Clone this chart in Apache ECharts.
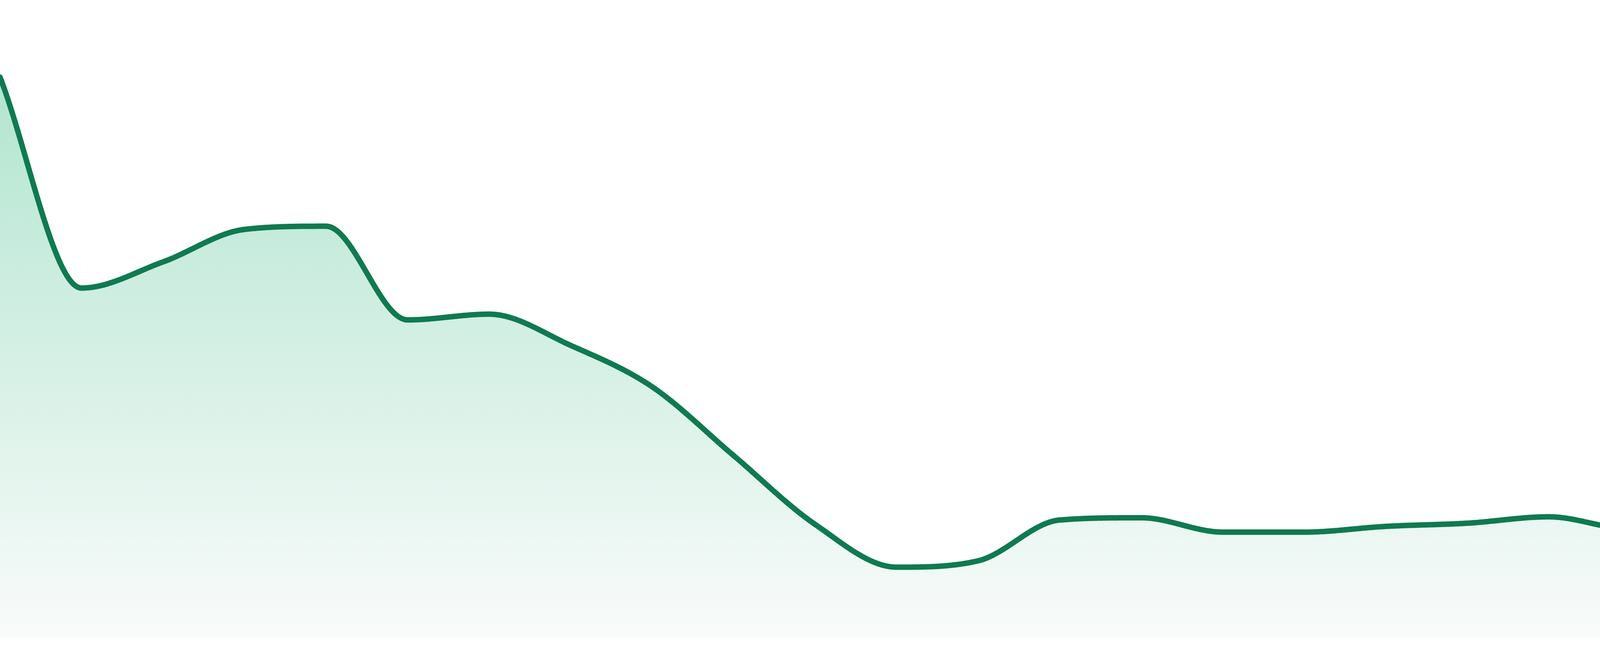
<!DOCTYPE html>
<html>
<head>
<meta charset="utf-8">
<script src="https://cdn.jsdelivr.net/npm/echarts@6/dist/echarts.min.js"></script>
<style>
html,body{margin:0;padding:0;background:#ffffff;}
#chart{width:4800px;height:1680px;}
</style>
</head>
<body>
<div id="chart"></div>
<script>
var categories = ['1','2','3','4','5','6','7','8','9','10','11','12','13','14','15','16','17','18','19','20','21','22','23','24'];
var values = [87.9, 54.8, 58.9, 64.0, 64.5, 49.8, 50.7, 45.8, 39.3, 28.5, 17.7, 11.0, 12.0, 18.4, 18.75, 16.5, 16.5, 17.4, 17.9, 18.9, 17.0, 19.5, 18.0, 17.2];
var yMin = 0;
var yMax = 100;

var lineColor = '#0f7a50';
var areaTop = '#b2e5d0';
var areaBottom = '#f9fbfa';

// monotone cubic (Fritsch-Carlson) tangents in pixel space
function monotoneTangents(pts) {
  var n = pts.length, d = [], m = [];
  for (var i = 0; i < n - 1; i++) {
    var dx = pts[i + 1][0] - pts[i][0];
    d[i] = dx !== 0 ? (pts[i + 1][1] - pts[i][1]) / dx : 0;
  }
  for (i = 0; i < n; i++) {
    if (i === 0) m[i] = d[0];
    else if (i === n - 1) m[i] = d[n - 2];
    else if (Math.sign(d[i - 1]) !== Math.sign(d[i])) m[i] = 0;
    else m[i] = (d[i - 1] + d[i]) / 2;
  }
  for (i = 0; i < n - 1; i++) {
    if (Math.abs(d[i]) < 1e-9) { m[i] = 0; m[i + 1] = 0; continue; }
    var a = m[i] / d[i], b = m[i + 1] / d[i], s = a * a + b * b;
    if (s <= 9) continue;
    var t = 3 / Math.sqrt(s);
    m[i] = a * t * d[i];
    m[i + 1] = b * t * d[i];
  }
  return m;
}

function sampleCurve(pts, m, steps) {
  var out = [pts[0].slice()];
  for (var i = 0; i < pts.length - 1; i++) {
    var x0 = pts[i][0], y0 = pts[i][1], x1 = pts[i + 1][0], y1 = pts[i + 1][1];
    var h = (x1 - x0) / 3;
    var c1x = x0 + h, c1y = y0 + m[i] * h;
    var c2x = x1 - h, c2y = y1 - m[i + 1] * h;
    for (var k = 1; k <= steps; k++) {
      var t = k / steps, u = 1 - t;
      var bx = u * u * u * x0 + 3 * u * u * t * c1x + 3 * u * t * t * c2x + t * t * t * x1;
      var by = u * u * u * y0 + 3 * u * u * t * c1y + 3 * u * t * t * c2y + t * t * t * y1;
      out.push([bx, by]);
    }
  }
  return out;
}

var seriesData = values.map(function (v, i) { return [i, v]; });

var chart = echarts.init(document.getElementById('chart'), null, {renderer: 'canvas'});
chart.setOption({
  animation: false,
  backgroundColor: '#ffffff',
  grid: {left: 0, right: 0, top: 0, bottom: 48},
  xAxis: {
    type: 'category',
    data: categories,
    boundaryGap: false,
    show: false
  },
  yAxis: {
    type: 'value',
    min: yMin,
    max: yMax,
    show: false,
    splitLine: {show: false}
  },
  series: [{
    type: 'custom',
    coordinateSystem: 'cartesian2d',
    data: seriesData,
    encode: {x: 0, y: 1},
    clip: false,
    renderItem: function (params, api) {
      if (params.dataIndex !== 0) return null;
      var pts = values.map(function (v, i) { return api.coord([i, v]); });
      var base = api.coord([0, yMin])[1];
      var m = monotoneTangents(pts);
      var curve = sampleCurve(pts, m, 60);
      var area = curve.slice();
      area.push([curve[curve.length - 1][0], base]);
      area.push([curve[0][0], base]);
      return {
        type: 'group',
        children: [{
          type: 'polygon',
          shape: {points: area},
          style: {
            fill: new echarts.graphic.LinearGradient(0, 0, 0, 1, [
              {offset: 0, color: areaTop},
              {offset: 1, color: areaBottom}
            ]),
            stroke: null
          }
        }, {
          type: 'polyline',
          shape: {points: curve},
          style: {
            stroke: lineColor,
            lineWidth: 14,
            fill: null,
            lineCap: 'round',
            lineJoin: 'round'
          }
        }]
      };
    }
  }]
});
</script>
</body>
</html>
